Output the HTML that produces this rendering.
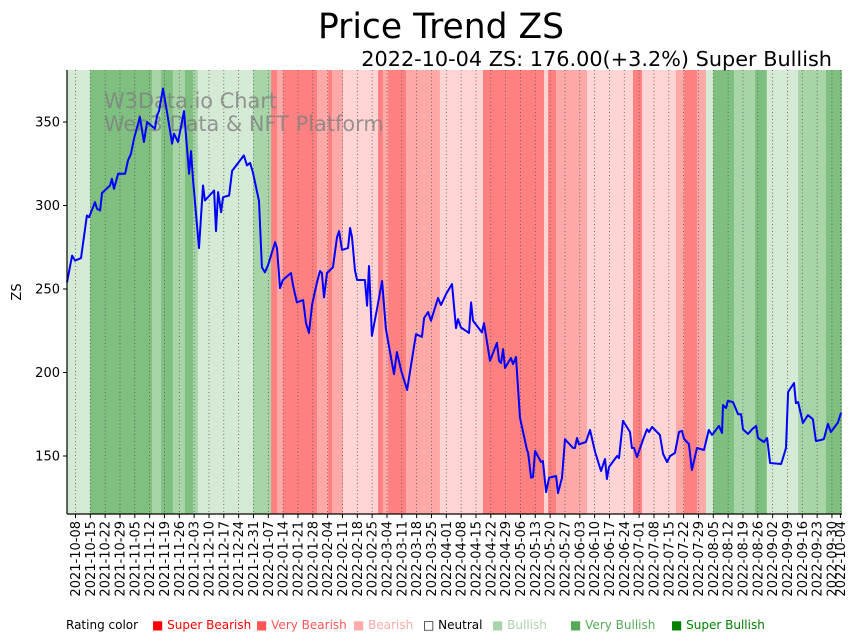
<!DOCTYPE html>
<html><head><meta charset="utf-8"><style>
body{margin:0;background:#fff;}
svg{display:block;font-family:"DejaVu Sans","Liberation Sans",sans-serif;}
</style></head><body>
<svg id="chart" width="859" height="641" viewBox="0 0 859 641" xmlns="http://www.w3.org/2000/svg">
<g id="bands"></g>
<g id="grid"></g>
<text x="104" y="108" font-size="20.9" fill="#808080" fill-opacity="0.8">W3Data.io Chart</text>
<text x="104" y="131" font-size="20.9" fill="#808080" fill-opacity="0.8">Web3 Data &amp; NFT Platform</text>
<g id="series"></g>
<g id="axes"></g>
<text x="441" y="38" font-size="34.5" text-anchor="middle" fill="#000">Price Trend ZS</text>
<text x="832" y="66" font-size="20.8" text-anchor="end" fill="#000">2022-10-04 ZS: 176.00(+3.2%) Super Bullish</text>
<text transform="translate(21,292) rotate(-90)" font-size="13" text-anchor="middle">ZS</text>
<g id="legend" font-size="12"></g>
</svg>
<script>
// ---- data ----
const startDate = "2021-10-04";
const yTicks = [150, 200, 250, 300, 350];
const bandStarts = [0,10.9,40.1,44.4,50,55.7,59.5,61.8,87.8,96.3,99.1,101.9,118,123.2,125.1,130.3,146.8,149.1,151.5,160,164.7,176,196.3,207.6,225.1,227,230.8,242.1,245.4,267.1,271.4,287.4,291.2,297.3,301.6,304.9,314.8,324.7,330.3,345,358.2];
const bandEnds   = [10.9,40.1,44.4,50,55.7,59.5,61.8,87.8,96.3,99.1,101.9,118,123.2,125.1,130.3,146.8,149.1,151.5,160,164.7,176,196.3,207.6,225.1,227,230.8,242.1,245.4,267.1,271.4,287.4,291.2,297.3,301.6,304.9,314.8,324.7,330.3,345,358.2,366];
const bandLevels = [1,3,2,3,2,3,2,1,2,-3,-2,-3,-2,-3,-2,-1,-3,-2,-3,-2,-2,-1,-3,-3,-1,-3,-2,-2,-1,-3,-1,-2,-3,-2,1,3,2,3,1,2,3];
const days = [0,2.4,3.8,6.6,9.4,10.4,13.2,14.2,15.6,16.5,20.3,21.2,22.2,24.1,27.4,28.8,30.2,31.6,34.4,36.3,37.8,41.5,42.5,43.4,45.3,47.2,49.6,50.5,52.4,55.2,57.6,58.5,59.5,62.3,64.2,65.1,69.4,70.3,71.3,72.7,73.6,76.5,77.9,83.5,84.9,86.4,87.8,90.6,92.0,93.4,94.9,98.2,99.1,100.5,101.9,105.7,106.7,108.5,111.4,112.8,114.2,115.6,118.0,119.4,120.3,121.3,122.7,
125.5,127.4,128.4,129.8,132.6,133.6,134.5,135.9,136.9,140.6,141.6,142.5,143.9,146.3,148.7,150.5,154.3,155.7,157.6,160.5,164.7,167.5,168.5,170.4,171.8,175.1,176.5,178.9,181.7,183.6,184.5,185.9,189.7,190.7,191.6,195.8,196.8,199.6,202.9,203.9,204.8,205.8,206.7,209.5,210.5,211.9,213.8,217.1,217.6,219.0,219.9,220.9,223.7,224.6,226.1,227.5,230.8,231.7,233.6,235.0,238.8,239.7,240.7,241.6,244.9,
246.8,249.2,252.0,253.9,254.8,255.8,259.6,260.5,262.4,265.7,266.6,267.6,269.0,271.8,273.7,274.7,276.1,279.8,281.3,283.2,284.6,286.9,288.8,290.2,291.2,293.5,294.9,297.3,300.6,302.9,304.4,307.7,309.1,309.6,311.0,311.9,314.3,316.7,318.1,319.0,321.4,323.3,325.2,326.1,328.9,330.4,331.8,337.0,337.9,339.3,340.3,343.1,344.0,345.0,347.3,349.7,352.0,353.4,355.8,357.2,359.1,360.5,363.8,365.3];
const prices = [254,270,267,268.5,294,293,302,298,297,307.5,312,316,310,319,319,327,331,340,353,338,350,346,354,356.5,370,356,337,343,338,356.5,319,332.6,315,274.5,312,303,309,284.7,308,296,305,306,320.7,330,324,325.5,319.5,302.7,263,260,264.4,278,274.5,250.6,255.4,259.6,252,242,243.4,229.6,223.7,240.4,254,260.8,259.6,245,259.6,
263,281,284.7,273.4,274.5,286.5,281,261,255.4,255.4,240,263.8,222,238,254.8,226,199,212.3,201.5,189.5,223,221.3,232.6,236.2,231,244.6,240.4,247,253,226.6,232,227,223.7,242,231,224,229.6,207,217.7,207,205.7,214,202.7,208.7,205,209.3,172.8,153.6,152,137,137.4,153,146.4,147,128.4,137,138,127.8,137,160,154.8,154.8,160.8,157,158.4,
165.6,152.4,141,148.2,136.2,143.4,150,148.8,171,164.4,154.8,154.8,149.4,159.6,166,164.4,167.4,162.6,151.2,146.4,150,151.8,164.4,165,160.2,157.2,141.6,154.8,153.6,165.6,162.6,168,163.8,180.5,178.7,183,182.3,175,175,166,163.2,166,168,160.8,158.4,160.8,145.8,145.2,148.8,154.8,188.3,193.7,181.7,182.3,169.8,174.5,172,159,159.6,160.2,169.2,164.4,170,176];
const legendLabels = ["Super Bearish","Very Bearish","Bearish","Neutral","Bullish","Very Bullish","Super Bullish"];

// ---- layout ----
const X0=67, X1=842, Y0=70, Y1=514, DAYPX=2.119;
const xs = d => X0 + d*DAYPX;
const ys = v => 456 - (v-150)*1.67;
const NS="http://www.w3.org/2000/svg";
function mk(tag, attrs, parent){const e=document.createElementNS(NS,tag);for(const k in attrs)e.setAttribute(k,attrs[k]);parent.appendChild(e);return e;}
const bandColor = {"-3":"#ff8080","-2":"#ffa8a8","-1":"#ffd4d4","0":"#ffffff","1":"#d4ead4","2":"#a8d5a8","3":"#7fbf7f"};

const gB=document.getElementById('bands');
for(let i=0;i<bandStarts.length;i++){
  const x1=Math.max(X0,xs(bandStarts[i])), x2=Math.min(X1,xs(bandEnds[i]));
  const r=mk('rect',{x:x1,y:Y0,width:Math.max(0,x2-x1),height:Y1-Y0,fill:bandColor[bandLevels[i]]},gB);
  
  
}

const base=new Date(startDate+"T00:00:00Z");
const tickDays=[]; for(let d=4; d<=361; d+=7) tickDays.push(d); tickDays.push(365);
function fmt(d){const t=new Date(base.getTime()+d*86400000);return t.toISOString().slice(0,10);}
const gG=document.getElementById('grid'), gA=document.getElementById('axes');
tickDays.forEach(d=>{
  const x=xs(d);
  const l=mk('line',{x1:x,x2:x,y1:Y0,y2:Y1,stroke:'#555','stroke-width':0.8,'stroke-dasharray':'1,2.5'},gG);
  
  
  mk('line',{x1:x,x2:x,y1:Y1,y2:Y1+4,stroke:'#000','stroke-width':1},gA);
  const t=mk('text',{transform:`translate(${x+4.5},${Y1+7}) rotate(-90)`,'font-size':13,'text-anchor':'end'},gA);
  t.textContent=fmt(d);
  
  
});
yTicks.forEach(v=>{
  const y=ys(v);
  mk('line',{x1:X0-4,x2:X0,y1:y,y2:y,stroke:'#000','stroke-width':1},gA);
  const t=mk('text',{x:X0-7,y:y+4.5,'font-size':13,'text-anchor':'end'},gA);
  t.textContent=v;
  
  
});
mk('line',{x1:X0,x2:X0,y1:Y0,y2:Y1,stroke:'#000','stroke-width':1.2},gA);
mk('line',{x1:X0,x2:X1,y1:Y1,y2:Y1,stroke:'#000','stroke-width':1.2},gA);

const gS=document.getElementById('series');
const pts=days.map((d,i)=>xs(d).toFixed(1)+','+ys(prices[i]).toFixed(1)).join(' ');
const pl=mk('polyline',{points:pts,fill:'none',stroke:'#0000ff','stroke-width':2,'stroke-linejoin':'round'},gS);



const gL=document.getElementById('legend');
const lt=mk('text',{x:66,y:629},gL); lt.textContent='Rating color';


const lx=[152,256,353,423,492,570,671];
const lcol=['#ff0000','#ff5555','#ffaaaa','#000','#aad4aa','#55aa55','#008000'];
legendLabels.forEach((s,i)=>{
  const t=mk('text',{x:lx[i],y:629,fill:lcol[i]},gL);
  t.textContent=(i===3?'\u25A1 ':'\u25A0 ')+s;
  
  
});
</script>
</body></html>
